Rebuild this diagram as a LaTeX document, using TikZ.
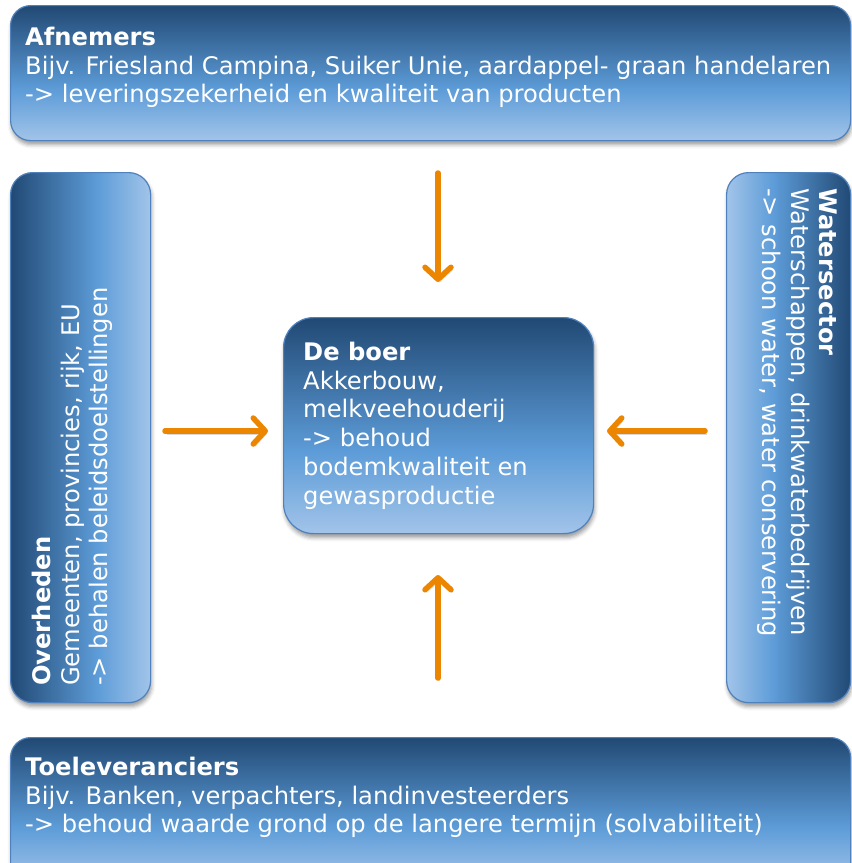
\documentclass[tikz,border=0pt]{standalone}
\usepackage{fontspec}
\setmainfont{DejaVu Sans}
\usetikzlibrary{arrows.meta,shadows.blur}
\definecolor{bdark}{RGB}{33,73,116}
\definecolor{bmid}{RGB}{93,156,216}
\definecolor{blight}{RGB}{162,196,233}
\definecolor{bline}{RGB}{79,129,189}
\definecolor{orng}{RGB}{236,134,0}
\pgfdeclareverticalshading{boxsh}{100bp}{color(0bp)=(blight); color(25bp)=(blight); color(44bp)=(bmid); color(75bp)=(bdark); color(100bp)=(bdark)}
\tikzset{
  boxbase/.style={draw=bline, line width=1.2pt, inner sep=0pt, anchor=north west, shading=boxsh,
    blur shadow={shadow xshift=1pt, shadow yshift=-4pt, shadow blur radius=4pt, shadow opacity=40}},
  hbox/.style={boxbase, shading angle=0},
  lbox/.style={boxbase, shading angle=90},
  rbox/.style={boxbase, shading angle=-90},
  txt/.style={text=white, align=left, inner sep=0pt, anchor=north west,
    font=\fontsize{24.2}{28.8}\selectfont},
  arr/.style={draw=orng, line width=5.5pt, line cap=round,
    -{Straight Barb[length=12pt,width=26pt,round]},
    preaction={draw=black, opacity=0.15, transform canvas={shift={(1.5pt,-3pt)}}}}
}
\begin{document}
\begin{tikzpicture}[x=1pt,y=-1pt]
\useasboundingbox (0,0) rectangle (852,863);
% boxes
\node[hbox, minimum width=840pt, minimum height=135pt, rounded corners=20pt] (afn) at (10,5) {};
\node[hbox, minimum width=840pt, minimum height=145pt, rounded corners=20pt] (toe) at (10,737) {};
\node[lbox, minimum width=140pt, minimum height=530pt, rounded corners=22pt] (ovh) at (10,172) {};
\node[rbox, minimum width=124pt, minimum height=530pt, rounded corners=22pt] (wat) at (726,172) {};
\node[hbox, minimum width=310pt, minimum height=216pt, rounded corners=30pt] (boer) at (283,317) {};
% texts
\node[txt] (afnT) at (25,25) {\rule{0pt}{20pt}\textbf{Afnemers}\\Bijv. Friesland Campina, Suiker Unie, aardappel- graan handelaren\\-> leveringszekerheid en kwaliteit van producten};
\node[txt] (toeT) at (25,755) {\rule{0pt}{20pt}\textbf{Toeleveranciers}\\Bijv. Banken, verpachters, landinvesteerders\\-> behoud waarde grond op de langere termijn (solvabiliteit)};
\node[txt] (boerT) at (303,340) {\rule{0pt}{20pt}\textbf{De boer}\\Akkerbouw,\\melkveehouderij\\-> behoud\\bodemkwaliteit en\\gewasproductie};
\node[txt, rotate=90] (ovhT) at (30,686) {\rule{0pt}{20pt}\textbf{Overheden}\\Gemeenten, provincies, rijk, EU\\-> behalen beleidsdoelstellingen};
\node[txt, rotate=-90] (watT) at (840,188) {\rule{0pt}{20pt}\textbf{Watersector}\\Waterschappen, drinkwaterbedrijven\\-> schoon water, water conservering};
% arrow end points
\coordinate (t1) at (438,173); \coordinate (t2) at (438,282);
\coordinate (b1) at (438,678); \coordinate (b2) at (438,575);
\coordinate (l1) at (165,431); \coordinate (l2) at (268,431);
\coordinate (r1) at (705,431); \coordinate (r2) at (607,431);
\draw[arr] (t1) -- (t2);
\draw[arr] (b1) -- (b2);
\draw[arr] (l1) -- (l2);
\draw[arr] (r1) -- (r2);
\end{tikzpicture}
\end{document}
